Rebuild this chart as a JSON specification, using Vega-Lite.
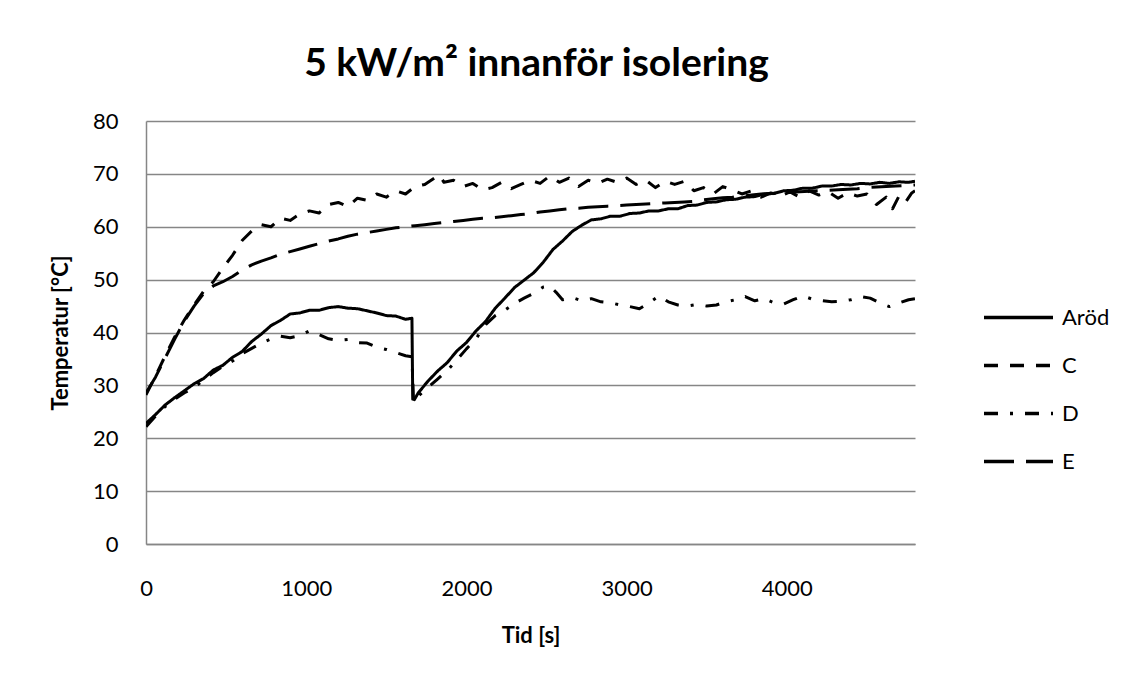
{
  "$schema": "https://vega.github.io/schema/vega-lite/v6.json",
  "width": 769,
  "height": 423,
  "autosize": {"type": "none"},
  "padding": {"left": 146, "top": 121, "right": 217, "bottom": 138},
  "background": "white",
  "title": {
    "text": "5 kW/m² innanför isolering",
    "font": "Lato",
    "fontSize": 39,
    "fontWeight": "bold",
    "color": "black",
    "anchor": "middle",
    "dx": 6,
    "offset": 26
  },
  "config": {
    "view": {"stroke": null},
    "axis": {
      "labelFont": "Lato",
      "labelFontSize": 22,
      "labelColor": "black",
      "titleFont": "Lato",
      "titleFontSize": 22,
      "titleFontWeight": "bold",
      "titleColor": "black",
      "domainColor": "#868686",
      "domainWidth": 1.5,
      "gridColor": "#868686",
      "gridWidth": 1.5,
      "ticks": false,
      "labelOverlap": false,
      "labelFlush": false
    },
    "legend": {
      "labelFont": "Lato",
      "labelFontSize": 22,
      "labelColor": "black"
    }
  },
  "data": {
    "values": [
      {"Serie": "Aröd", "Tid": 0, "Temp": 22.8},
      {"Serie": "Aröd", "Tid": 60, "Temp": 24.5},
      {"Serie": "Aröd", "Tid": 120, "Temp": 26.3},
      {"Serie": "Aröd", "Tid": 180, "Temp": 27.7},
      {"Serie": "Aröd", "Tid": 240, "Temp": 29.0},
      {"Serie": "Aröd", "Tid": 300, "Temp": 30.3},
      {"Serie": "Aröd", "Tid": 360, "Temp": 31.3},
      {"Serie": "Aröd", "Tid": 420, "Temp": 32.9},
      {"Serie": "Aröd", "Tid": 480, "Temp": 33.8},
      {"Serie": "Aröd", "Tid": 540, "Temp": 35.3},
      {"Serie": "Aröd", "Tid": 600, "Temp": 36.4},
      {"Serie": "Aröd", "Tid": 660, "Temp": 38.3},
      {"Serie": "Aröd", "Tid": 720, "Temp": 39.7},
      {"Serie": "Aröd", "Tid": 780, "Temp": 41.3},
      {"Serie": "Aröd", "Tid": 840, "Temp": 42.3},
      {"Serie": "Aröd", "Tid": 900, "Temp": 43.5},
      {"Serie": "Aröd", "Tid": 960, "Temp": 43.7},
      {"Serie": "Aröd", "Tid": 1020, "Temp": 44.2},
      {"Serie": "Aröd", "Tid": 1080, "Temp": 44.2},
      {"Serie": "Aröd", "Tid": 1140, "Temp": 44.7},
      {"Serie": "Aröd", "Tid": 1200, "Temp": 44.9},
      {"Serie": "Aröd", "Tid": 1260, "Temp": 44.6},
      {"Serie": "Aröd", "Tid": 1320, "Temp": 44.5},
      {"Serie": "Aröd", "Tid": 1380, "Temp": 44.1},
      {"Serie": "Aröd", "Tid": 1440, "Temp": 43.7},
      {"Serie": "Aröd", "Tid": 1500, "Temp": 43.2},
      {"Serie": "Aröd", "Tid": 1560, "Temp": 43.1},
      {"Serie": "Aröd", "Tid": 1620, "Temp": 42.5},
      {"Serie": "Aröd", "Tid": 1660, "Temp": 42.7},
      {"Serie": "Aröd", "Tid": 1665, "Temp": 27.4},
      {"Serie": "Aröd", "Tid": 1675, "Temp": 27.3},
      {"Serie": "Aröd", "Tid": 1700, "Temp": 28.6},
      {"Serie": "Aröd", "Tid": 1760, "Temp": 30.8},
      {"Serie": "Aröd", "Tid": 1820, "Temp": 32.7},
      {"Serie": "Aröd", "Tid": 1880, "Temp": 34.3},
      {"Serie": "Aröd", "Tid": 1940, "Temp": 36.5},
      {"Serie": "Aröd", "Tid": 2000, "Temp": 38.1},
      {"Serie": "Aröd", "Tid": 2060, "Temp": 40.3},
      {"Serie": "Aröd", "Tid": 2120, "Temp": 42.1},
      {"Serie": "Aröd", "Tid": 2180, "Temp": 44.6},
      {"Serie": "Aröd", "Tid": 2240, "Temp": 46.5},
      {"Serie": "Aröd", "Tid": 2300, "Temp": 48.5},
      {"Serie": "Aröd", "Tid": 2360, "Temp": 49.9},
      {"Serie": "Aröd", "Tid": 2420, "Temp": 51.3},
      {"Serie": "Aröd", "Tid": 2480, "Temp": 53.3},
      {"Serie": "Aröd", "Tid": 2540, "Temp": 55.7},
      {"Serie": "Aröd", "Tid": 2600, "Temp": 57.3},
      {"Serie": "Aröd", "Tid": 2660, "Temp": 59.1},
      {"Serie": "Aröd", "Tid": 2720, "Temp": 60.3},
      {"Serie": "Aröd", "Tid": 2780, "Temp": 61.3},
      {"Serie": "Aröd", "Tid": 2840, "Temp": 61.5},
      {"Serie": "Aröd", "Tid": 2900, "Temp": 62.0},
      {"Serie": "Aröd", "Tid": 2960, "Temp": 62.0},
      {"Serie": "Aröd", "Tid": 3020, "Temp": 62.5},
      {"Serie": "Aröd", "Tid": 3080, "Temp": 62.6},
      {"Serie": "Aröd", "Tid": 3140, "Temp": 63.0},
      {"Serie": "Aröd", "Tid": 3200, "Temp": 63.0},
      {"Serie": "Aröd", "Tid": 3260, "Temp": 63.4},
      {"Serie": "Aröd", "Tid": 3320, "Temp": 63.4},
      {"Serie": "Aröd", "Tid": 3380, "Temp": 64.0},
      {"Serie": "Aröd", "Tid": 3440, "Temp": 64.1},
      {"Serie": "Aröd", "Tid": 3500, "Temp": 64.6},
      {"Serie": "Aröd", "Tid": 3560, "Temp": 64.7},
      {"Serie": "Aröd", "Tid": 3620, "Temp": 65.1},
      {"Serie": "Aröd", "Tid": 3680, "Temp": 65.2},
      {"Serie": "Aröd", "Tid": 3740, "Temp": 65.6},
      {"Serie": "Aröd", "Tid": 3800, "Temp": 65.7},
      {"Serie": "Aröd", "Tid": 3860, "Temp": 66.2},
      {"Serie": "Aröd", "Tid": 3920, "Temp": 66.3},
      {"Serie": "Aröd", "Tid": 3980, "Temp": 66.8},
      {"Serie": "Aröd", "Tid": 4040, "Temp": 66.9},
      {"Serie": "Aröd", "Tid": 4100, "Temp": 67.3},
      {"Serie": "Aröd", "Tid": 4160, "Temp": 67.3},
      {"Serie": "Aröd", "Tid": 4220, "Temp": 67.7},
      {"Serie": "Aröd", "Tid": 4280, "Temp": 67.7},
      {"Serie": "Aröd", "Tid": 4340, "Temp": 68.0},
      {"Serie": "Aröd", "Tid": 4400, "Temp": 67.9},
      {"Serie": "Aröd", "Tid": 4460, "Temp": 68.2},
      {"Serie": "Aröd", "Tid": 4520, "Temp": 68.1},
      {"Serie": "Aröd", "Tid": 4580, "Temp": 68.4},
      {"Serie": "Aröd", "Tid": 4640, "Temp": 68.2},
      {"Serie": "Aröd", "Tid": 4700, "Temp": 68.5},
      {"Serie": "Aröd", "Tid": 4760, "Temp": 68.4},
      {"Serie": "Aröd", "Tid": 4800, "Temp": 68.6},

      {"Serie": "C", "Tid": 0, "Temp": 28.2},
      {"Serie": "C", "Tid": 60, "Temp": 31.8},
      {"Serie": "C", "Tid": 120, "Temp": 35.6},
      {"Serie": "C", "Tid": 180, "Temp": 39.2},
      {"Serie": "C", "Tid": 240, "Temp": 42.4},
      {"Serie": "C", "Tid": 300, "Temp": 45.2},
      {"Serie": "C", "Tid": 360, "Temp": 47.8},
      {"Serie": "C", "Tid": 420, "Temp": 49.6},
      {"Serie": "C", "Tid": 480, "Temp": 52.2},
      {"Serie": "C", "Tid": 540, "Temp": 54.6},
      {"Serie": "C", "Tid": 600, "Temp": 57.4},
      {"Serie": "C", "Tid": 660, "Temp": 59.2},
      {"Serie": "C", "Tid": 720, "Temp": 60.4},
      {"Serie": "C", "Tid": 780, "Temp": 60.0},
      {"Serie": "C", "Tid": 840, "Temp": 61.6},
      {"Serie": "C", "Tid": 900, "Temp": 61.2},
      {"Serie": "C", "Tid": 960, "Temp": 62.4},
      {"Serie": "C", "Tid": 1020, "Temp": 63.0},
      {"Serie": "C", "Tid": 1080, "Temp": 62.6},
      {"Serie": "C", "Tid": 1140, "Temp": 64.2},
      {"Serie": "C", "Tid": 1200, "Temp": 64.6},
      {"Serie": "C", "Tid": 1260, "Temp": 63.8},
      {"Serie": "C", "Tid": 1320, "Temp": 65.4},
      {"Serie": "C", "Tid": 1380, "Temp": 65.0},
      {"Serie": "C", "Tid": 1440, "Temp": 66.2},
      {"Serie": "C", "Tid": 1500, "Temp": 65.6},
      {"Serie": "C", "Tid": 1560, "Temp": 66.8},
      {"Serie": "C", "Tid": 1620, "Temp": 66.2},
      {"Serie": "C", "Tid": 1680, "Temp": 67.6},
      {"Serie": "C", "Tid": 1740, "Temp": 68.0},
      {"Serie": "C", "Tid": 1800, "Temp": 69.2},
      {"Serie": "C", "Tid": 1830, "Temp": 69.8},
      {"Serie": "C", "Tid": 1860, "Temp": 68.4},
      {"Serie": "C", "Tid": 1920, "Temp": 68.8},
      {"Serie": "C", "Tid": 1980, "Temp": 67.6},
      {"Serie": "C", "Tid": 2040, "Temp": 68.2},
      {"Serie": "C", "Tid": 2100, "Temp": 67.0},
      {"Serie": "C", "Tid": 2160, "Temp": 67.4},
      {"Serie": "C", "Tid": 2220, "Temp": 68.4},
      {"Serie": "C", "Tid": 2280, "Temp": 67.2},
      {"Serie": "C", "Tid": 2340, "Temp": 68.0},
      {"Serie": "C", "Tid": 2400, "Temp": 68.8},
      {"Serie": "C", "Tid": 2460, "Temp": 68.2},
      {"Serie": "C", "Tid": 2520, "Temp": 69.6},
      {"Serie": "C", "Tid": 2580, "Temp": 68.4},
      {"Serie": "C", "Tid": 2640, "Temp": 69.2},
      {"Serie": "C", "Tid": 2700, "Temp": 67.6},
      {"Serie": "C", "Tid": 2760, "Temp": 68.8},
      {"Serie": "C", "Tid": 2820, "Temp": 68.2},
      {"Serie": "C", "Tid": 2880, "Temp": 69.0},
      {"Serie": "C", "Tid": 2940, "Temp": 68.4},
      {"Serie": "C", "Tid": 3000, "Temp": 69.2},
      {"Serie": "C", "Tid": 3060, "Temp": 68.0},
      {"Serie": "C", "Tid": 3120, "Temp": 68.8},
      {"Serie": "C", "Tid": 3180, "Temp": 67.4},
      {"Serie": "C", "Tid": 3240, "Temp": 68.6},
      {"Serie": "C", "Tid": 3300, "Temp": 68.0},
      {"Serie": "C", "Tid": 3360, "Temp": 68.6},
      {"Serie": "C", "Tid": 3420, "Temp": 66.8},
      {"Serie": "C", "Tid": 3480, "Temp": 67.4},
      {"Serie": "C", "Tid": 3540, "Temp": 66.2},
      {"Serie": "C", "Tid": 3600, "Temp": 67.6},
      {"Serie": "C", "Tid": 3660, "Temp": 67.0},
      {"Serie": "C", "Tid": 3720, "Temp": 66.2},
      {"Serie": "C", "Tid": 3780, "Temp": 66.8},
      {"Serie": "C", "Tid": 3840, "Temp": 65.6},
      {"Serie": "C", "Tid": 3900, "Temp": 66.4},
      {"Serie": "C", "Tid": 3960, "Temp": 65.8},
      {"Serie": "C", "Tid": 4020, "Temp": 66.6},
      {"Serie": "C", "Tid": 4080, "Temp": 65.6},
      {"Serie": "C", "Tid": 4140, "Temp": 66.8},
      {"Serie": "C", "Tid": 4200, "Temp": 66.0},
      {"Serie": "C", "Tid": 4260, "Temp": 66.6},
      {"Serie": "C", "Tid": 4320, "Temp": 65.4},
      {"Serie": "C", "Tid": 4380, "Temp": 66.4},
      {"Serie": "C", "Tid": 4440, "Temp": 65.8},
      {"Serie": "C", "Tid": 4500, "Temp": 66.2},
      {"Serie": "C", "Tid": 4560, "Temp": 64.2},
      {"Serie": "C", "Tid": 4620, "Temp": 65.6},
      {"Serie": "C", "Tid": 4660, "Temp": 63.4},
      {"Serie": "C", "Tid": 4700, "Temp": 65.8},
      {"Serie": "C", "Tid": 4740, "Temp": 64.6},
      {"Serie": "C", "Tid": 4780, "Temp": 66.4},
      {"Serie": "C", "Tid": 4800, "Temp": 66.8},

      {"Serie": "D", "Tid": 0, "Temp": 22.2},
      {"Serie": "D", "Tid": 60, "Temp": 24.2},
      {"Serie": "D", "Tid": 120, "Temp": 26.0},
      {"Serie": "D", "Tid": 180, "Temp": 27.4},
      {"Serie": "D", "Tid": 240, "Temp": 28.6},
      {"Serie": "D", "Tid": 300, "Temp": 29.6},
      {"Serie": "D", "Tid": 360, "Temp": 31.0},
      {"Serie": "D", "Tid": 420, "Temp": 32.4},
      {"Serie": "D", "Tid": 480, "Temp": 33.6},
      {"Serie": "D", "Tid": 540, "Temp": 34.6},
      {"Serie": "D", "Tid": 600, "Temp": 36.0},
      {"Serie": "D", "Tid": 660, "Temp": 37.0},
      {"Serie": "D", "Tid": 720, "Temp": 38.0},
      {"Serie": "D", "Tid": 780, "Temp": 38.8},
      {"Serie": "D", "Tid": 840, "Temp": 39.3},
      {"Serie": "D", "Tid": 900, "Temp": 39.0},
      {"Serie": "D", "Tid": 960, "Temp": 39.4},
      {"Serie": "D", "Tid": 1020, "Temp": 40.3},
      {"Serie": "D", "Tid": 1080, "Temp": 39.6},
      {"Serie": "D", "Tid": 1140, "Temp": 38.8},
      {"Serie": "D", "Tid": 1200, "Temp": 38.5},
      {"Serie": "D", "Tid": 1260, "Temp": 38.7},
      {"Serie": "D", "Tid": 1320, "Temp": 38.1},
      {"Serie": "D", "Tid": 1380, "Temp": 38.0},
      {"Serie": "D", "Tid": 1440, "Temp": 37.2},
      {"Serie": "D", "Tid": 1500, "Temp": 36.8},
      {"Serie": "D", "Tid": 1560, "Temp": 36.2},
      {"Serie": "D", "Tid": 1620, "Temp": 35.6},
      {"Serie": "D", "Tid": 1660, "Temp": 35.4},
      {"Serie": "D", "Tid": 1670, "Temp": 27.0},
      {"Serie": "D", "Tid": 1700, "Temp": 28.0},
      {"Serie": "D", "Tid": 1760, "Temp": 29.6},
      {"Serie": "D", "Tid": 1820, "Temp": 31.2},
      {"Serie": "D", "Tid": 1880, "Temp": 32.8},
      {"Serie": "D", "Tid": 1940, "Temp": 34.8},
      {"Serie": "D", "Tid": 2000, "Temp": 36.9},
      {"Serie": "D", "Tid": 2060, "Temp": 38.8},
      {"Serie": "D", "Tid": 2120, "Temp": 41.5},
      {"Serie": "D", "Tid": 2180, "Temp": 43.2},
      {"Serie": "D", "Tid": 2240, "Temp": 44.2},
      {"Serie": "D", "Tid": 2300, "Temp": 45.5},
      {"Serie": "D", "Tid": 2360, "Temp": 46.5},
      {"Serie": "D", "Tid": 2420, "Temp": 47.4},
      {"Serie": "D", "Tid": 2480, "Temp": 48.6},
      {"Serie": "D", "Tid": 2520, "Temp": 48.8},
      {"Serie": "D", "Tid": 2560, "Temp": 47.6},
      {"Serie": "D", "Tid": 2600, "Temp": 46.2},
      {"Serie": "D", "Tid": 2660, "Temp": 46.6},
      {"Serie": "D", "Tid": 2720, "Temp": 46.0},
      {"Serie": "D", "Tid": 2780, "Temp": 46.4},
      {"Serie": "D", "Tid": 2840, "Temp": 45.8},
      {"Serie": "D", "Tid": 2900, "Temp": 45.6},
      {"Serie": "D", "Tid": 2960, "Temp": 45.2},
      {"Serie": "D", "Tid": 3020, "Temp": 44.9},
      {"Serie": "D", "Tid": 3080, "Temp": 44.5},
      {"Serie": "D", "Tid": 3140, "Temp": 45.6},
      {"Serie": "D", "Tid": 3200, "Temp": 46.9},
      {"Serie": "D", "Tid": 3260, "Temp": 45.8},
      {"Serie": "D", "Tid": 3320, "Temp": 45.2},
      {"Serie": "D", "Tid": 3380, "Temp": 45.0},
      {"Serie": "D", "Tid": 3440, "Temp": 45.3},
      {"Serie": "D", "Tid": 3500, "Temp": 45.0},
      {"Serie": "D", "Tid": 3560, "Temp": 45.2},
      {"Serie": "D", "Tid": 3620, "Temp": 45.8},
      {"Serie": "D", "Tid": 3680, "Temp": 46.2},
      {"Serie": "D", "Tid": 3740, "Temp": 46.8},
      {"Serie": "D", "Tid": 3800, "Temp": 46.0},
      {"Serie": "D", "Tid": 3860, "Temp": 46.4},
      {"Serie": "D", "Tid": 3920, "Temp": 45.6},
      {"Serie": "D", "Tid": 3980, "Temp": 45.4},
      {"Serie": "D", "Tid": 4040, "Temp": 46.2},
      {"Serie": "D", "Tid": 4100, "Temp": 46.9},
      {"Serie": "D", "Tid": 4160, "Temp": 46.3},
      {"Serie": "D", "Tid": 4220, "Temp": 46.0},
      {"Serie": "D", "Tid": 4280, "Temp": 45.8},
      {"Serie": "D", "Tid": 4340, "Temp": 45.9},
      {"Serie": "D", "Tid": 4400, "Temp": 46.2},
      {"Serie": "D", "Tid": 4460, "Temp": 46.8},
      {"Serie": "D", "Tid": 4520, "Temp": 46.5},
      {"Serie": "D", "Tid": 4580, "Temp": 45.6},
      {"Serie": "D", "Tid": 4640, "Temp": 44.9},
      {"Serie": "D", "Tid": 4700, "Temp": 45.6},
      {"Serie": "D", "Tid": 4760, "Temp": 46.2},
      {"Serie": "D", "Tid": 4800, "Temp": 46.4},

      {"Serie": "E", "Tid": 0, "Temp": 28.6},
      {"Serie": "E", "Tid": 60, "Temp": 31.6},
      {"Serie": "E", "Tid": 120, "Temp": 35.2},
      {"Serie": "E", "Tid": 180, "Temp": 38.8},
      {"Serie": "E", "Tid": 240, "Temp": 42.2},
      {"Serie": "E", "Tid": 300, "Temp": 45.0},
      {"Serie": "E", "Tid": 360, "Temp": 47.4},
      {"Serie": "E", "Tid": 420, "Temp": 48.8},
      {"Serie": "E", "Tid": 480, "Temp": 49.6},
      {"Serie": "E", "Tid": 540, "Temp": 50.6},
      {"Serie": "E", "Tid": 600, "Temp": 51.8},
      {"Serie": "E", "Tid": 660, "Temp": 52.8},
      {"Serie": "E", "Tid": 720, "Temp": 53.5},
      {"Serie": "E", "Tid": 780, "Temp": 54.1},
      {"Serie": "E", "Tid": 840, "Temp": 54.8},
      {"Serie": "E", "Tid": 900, "Temp": 55.3},
      {"Serie": "E", "Tid": 960, "Temp": 55.8},
      {"Serie": "E", "Tid": 1020, "Temp": 56.3},
      {"Serie": "E", "Tid": 1080, "Temp": 56.8},
      {"Serie": "E", "Tid": 1140, "Temp": 57.3},
      {"Serie": "E", "Tid": 1200, "Temp": 57.7},
      {"Serie": "E", "Tid": 1260, "Temp": 58.2},
      {"Serie": "E", "Tid": 1320, "Temp": 58.6},
      {"Serie": "E", "Tid": 1380, "Temp": 58.9},
      {"Serie": "E", "Tid": 1440, "Temp": 59.2},
      {"Serie": "E", "Tid": 1500, "Temp": 59.5},
      {"Serie": "E", "Tid": 1560, "Temp": 59.8},
      {"Serie": "E", "Tid": 1620, "Temp": 60.0},
      {"Serie": "E", "Tid": 1680, "Temp": 60.2},
      {"Serie": "E", "Tid": 1740, "Temp": 60.4},
      {"Serie": "E", "Tid": 1800, "Temp": 60.6},
      {"Serie": "E", "Tid": 1860, "Temp": 60.8},
      {"Serie": "E", "Tid": 1920, "Temp": 61.0},
      {"Serie": "E", "Tid": 1980, "Temp": 61.2},
      {"Serie": "E", "Tid": 2040, "Temp": 61.4},
      {"Serie": "E", "Tid": 2100, "Temp": 61.6},
      {"Serie": "E", "Tid": 2160, "Temp": 61.7},
      {"Serie": "E", "Tid": 2220, "Temp": 61.9},
      {"Serie": "E", "Tid": 2280, "Temp": 62.1},
      {"Serie": "E", "Tid": 2340, "Temp": 62.3},
      {"Serie": "E", "Tid": 2400, "Temp": 62.5},
      {"Serie": "E", "Tid": 2460, "Temp": 62.8},
      {"Serie": "E", "Tid": 2520, "Temp": 63.0},
      {"Serie": "E", "Tid": 2580, "Temp": 63.2},
      {"Serie": "E", "Tid": 2640, "Temp": 63.4},
      {"Serie": "E", "Tid": 2700, "Temp": 63.5},
      {"Serie": "E", "Tid": 2760, "Temp": 63.7},
      {"Serie": "E", "Tid": 2820, "Temp": 63.8},
      {"Serie": "E", "Tid": 2880, "Temp": 63.9},
      {"Serie": "E", "Tid": 2940, "Temp": 64.0},
      {"Serie": "E", "Tid": 3000, "Temp": 64.1},
      {"Serie": "E", "Tid": 3060, "Temp": 64.2},
      {"Serie": "E", "Tid": 3120, "Temp": 64.3},
      {"Serie": "E", "Tid": 3180, "Temp": 64.4},
      {"Serie": "E", "Tid": 3240, "Temp": 64.5},
      {"Serie": "E", "Tid": 3300, "Temp": 64.6},
      {"Serie": "E", "Tid": 3360, "Temp": 64.7},
      {"Serie": "E", "Tid": 3420, "Temp": 64.8},
      {"Serie": "E", "Tid": 3480, "Temp": 65.1},
      {"Serie": "E", "Tid": 3540, "Temp": 65.3},
      {"Serie": "E", "Tid": 3600, "Temp": 65.5},
      {"Serie": "E", "Tid": 3660, "Temp": 65.6},
      {"Serie": "E", "Tid": 3720, "Temp": 65.8},
      {"Serie": "E", "Tid": 3780, "Temp": 66.0},
      {"Serie": "E", "Tid": 3840, "Temp": 66.2},
      {"Serie": "E", "Tid": 3900, "Temp": 66.3},
      {"Serie": "E", "Tid": 3960, "Temp": 66.4},
      {"Serie": "E", "Tid": 4020, "Temp": 66.5},
      {"Serie": "E", "Tid": 4080, "Temp": 66.6},
      {"Serie": "E", "Tid": 4140, "Temp": 66.7},
      {"Serie": "E", "Tid": 4200, "Temp": 66.8},
      {"Serie": "E", "Tid": 4260, "Temp": 66.9},
      {"Serie": "E", "Tid": 4320, "Temp": 67.0},
      {"Serie": "E", "Tid": 4380, "Temp": 67.1},
      {"Serie": "E", "Tid": 4440, "Temp": 67.2},
      {"Serie": "E", "Tid": 4500, "Temp": 67.4},
      {"Serie": "E", "Tid": 4560, "Temp": 67.5},
      {"Serie": "E", "Tid": 4620, "Temp": 67.6},
      {"Serie": "E", "Tid": 4680, "Temp": 67.7},
      {"Serie": "E", "Tid": 4740, "Temp": 67.8},
      {"Serie": "E", "Tid": 4800, "Temp": 67.9}
    ]
  },
  "mark": {"type": "line", "color": "black", "strokeWidth": 3, "strokeCap": "butt", "strokeJoin": "round", "clip": true},
  "encoding": {
    "x": {
      "field": "Tid",
      "type": "quantitative",
      "scale": {"domain": [0, 4800], "nice": false},
      "axis": {
        "title": "Tid [s]",
        "values": [0, 1000, 2000, 3000, 4000],
        "format": "d",
        "grid": false,
        "labelPadding": 34,
        "titlePadding": 26
      }
    },
    "y": {
      "field": "Temp",
      "type": "quantitative",
      "scale": {"domain": [0, 80], "nice": false},
      "axis": {
        "title": "Temperatur [°C]",
        "values": [0, 10, 20, 30, 40, 50, 60, 70, 80],
        "grid": true,
        "labelPadding": 28,
        "titlePadding": 20
      }
    },
    "strokeDash": {
      "field": "Serie",
      "type": "nominal",
      "scale": {
        "domain": ["Aröd", "C", "D", "E"],
        "range": [[1, 0], [14, 12], [14, 12, 3, 12], [30, 12]]
      },
      "legend": {
        "title": null,
        "orient": "none",
        "legendX": 836,
        "legendY": 160,
        "symbolType": "stroke",
        "symbolSize": 4761,
        "symbolStrokeWidth": 3.5,
        "symbolStrokeColor": "black",
        "labelOffset": 7,
        "rowPadding": -24
      }
    },
    "detail": {"field": "Serie", "type": "nominal"}
  }
}
